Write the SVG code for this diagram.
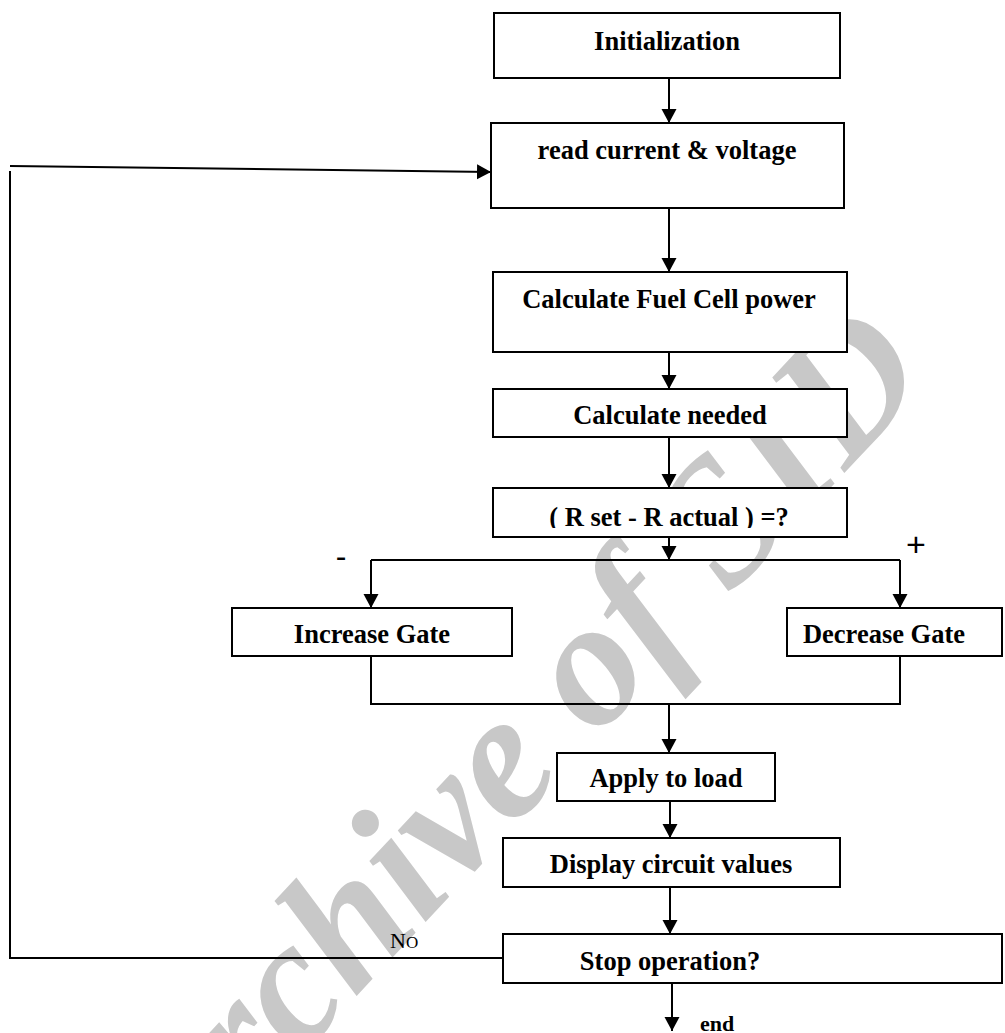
<svg xmlns="http://www.w3.org/2000/svg" width="1005" height="1033" viewBox="0 0 1005 1033">
<defs>
<style>
.box{fill:#fff;stroke:#000;stroke-width:2}
.lbl{font-family:"Liberation Serif","Times New Roman",serif;font-weight:bold;font-size:26.5px;fill:#000;text-anchor:middle}
.ln{fill:none;stroke:#000;stroke-width:2}
.wm{font-family:"Liberation Serif","Times New Roman",serif;font-style:italic;font-weight:bold;font-size:180px;fill:#c8c8c8}
</style>
<marker id="ahb" viewBox="0 0 14 16" refX="14" refY="8" markerWidth="14" markerHeight="16" markerUnits="userSpaceOnUse" orient="auto">
<path d="M0,0.5 L14,8 L0,15.5 Z" fill="#000"/>
</marker>
<clipPath id="clipR"><rect x="494" y="489" width="352" height="39"/></clipPath>
</defs>
<rect width="1005" height="1033" fill="#fff"/>
<text class="wm" transform="translate(170,1196) rotate(-47)">Archive of SID</text>
<g id="connectors">
<line class="ln" x1="669" y1="78" x2="669" y2="123" marker-end="url(#ahb)"/>
<line class="ln" x1="669" y1="208" x2="669" y2="272" marker-end="url(#ahb)"/>
<line class="ln" x1="669" y1="352" x2="669" y2="389" marker-end="url(#ahb)"/>
<line class="ln" x1="669" y1="437" x2="669" y2="488" marker-end="url(#ahb)"/>
<line class="ln" x1="669" y1="537" x2="669" y2="560" marker-end="url(#ahb)"/>
<line class="ln" x1="371" y1="560" x2="900" y2="560"/>
<line class="ln" x1="371" y1="560" x2="371" y2="608" marker-end="url(#ahb)"/>
<line class="ln" x1="900" y1="560" x2="900" y2="608" marker-end="url(#ahb)"/>
<polyline class="ln" points="371,656 371,704 900,704 900,656"/>
<line class="ln" x1="669" y1="704" x2="669" y2="753" marker-end="url(#ahb)"/>
<line class="ln" x1="670" y1="801" x2="670" y2="838" marker-end="url(#ahb)"/>
<line class="ln" x1="670" y1="887" x2="670" y2="934" marker-end="url(#ahb)"/>
<polyline class="ln" points="503,958 10,958 10,171"/>
<line class="ln" x1="10" y1="166" x2="491" y2="172" marker-end="url(#ahb)"/>
<line class="ln" x1="672" y1="983" x2="672" y2="1031" marker-end="url(#ahb)"/>
</g>
<g id="n1"><rect class="box" x="494" y="13" width="346" height="65"/><text class="lbl" x="667" y="50">Initialization</text></g>
<g id="n2"><rect class="box" x="491" y="123" width="353" height="85"/><text class="lbl" x="667" y="159">read current &amp; voltage</text></g>
<g id="n3"><rect class="box" x="493" y="272" width="354" height="80"/><text class="lbl" x="669" y="308">Calculate Fuel Cell power</text></g>
<g id="n4"><rect class="box" x="493" y="389" width="354" height="48"/><text class="lbl" x="670" y="424">Calculate needed</text></g>
<g id="n5"><rect class="box" x="493" y="488" width="354" height="49"/><text class="lbl" x="669" y="526" clip-path="url(#clipR)">( R set -  R actual ) =?</text></g>
<g id="n6"><rect class="box" x="232" y="608" width="280" height="48"/><text class="lbl" x="372" y="643">Increase Gate</text></g>
<g id="n7"><rect class="box" x="787" y="608" width="215" height="48"/><text class="lbl" x="884" y="643">Decrease Gate</text></g>
<g id="n8"><rect class="box" x="557" y="753" width="218" height="48"/><text class="lbl" x="666" y="787">Apply to  load</text></g>
<g id="n9"><rect class="box" x="503" y="838" width="337" height="49"/><text class="lbl" x="671" y="873">Display circuit values</text></g>
<g id="n10"><rect class="box" x="503" y="934" width="499" height="49"/><text class="lbl" x="670" y="970">Stop operation?</text></g>
<g id="labels">
<text x="341" y="567" font-family="Liberation Sans,Arial,sans-serif" font-size="32" text-anchor="middle">-</text>
<text x="916" y="556" font-family="Liberation Sans,Arial,sans-serif" font-size="34" text-anchor="middle">+</text>
<text x="390" y="948" font-family="Liberation Serif,Times New Roman,serif" font-size="22">N<tspan font-size="17">O</tspan></text>
<text x="700" y="1031" font-family="Liberation Serif,Times New Roman,serif" font-weight="bold" font-size="22">end</text>
</g>
</svg>
